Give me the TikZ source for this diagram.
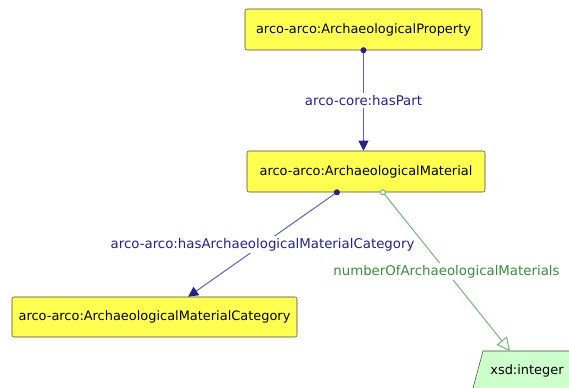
\documentclass[tikz,border=0pt]{standalone}
\usepackage{fontspec}
\setmainfont{DejaVu Sans}
\usepackage{tikz}
\usetikzlibrary{arrows.meta,calc}
\definecolor{owlyellow}{RGB}{255,255,80}
\definecolor{owlgreen}{RGB}{204,255,204}
\definecolor{objblue}{RGB}{35,35,140}
\definecolor{objline}{RGB}{95,95,180}
\definecolor{datagreen}{RGB}{60,140,60}
\definecolor{dataline}{RGB}{115,180,115}
\definecolor{boxedge}{RGB}{70,70,70}

\tikzset{
  owlfont/.style={font=\fontsize{9.7}{11}\selectfont},
  edgefont/.style={font=\fontsize{10}{12}\selectfont},
  classbox/.style={owlfont, draw=boxedge, fill=owlyellow, rounded corners=1.5pt, minimum height=30.75pt, inner sep=0pt},
  dtbox/.style={draw=boxedge, fill=owlgreen},
  objedge/.style={draw=objline, line width=0.75pt, {Circle[length=4.5pt,fill=objblue,color=objblue]}-{Triangle[length=7.5pt,width=7.5pt,fill=objblue,color=objblue]}, shorten <=-2.25pt},
  dataedge/.style={draw=dataline, line width=0.75pt, {Circle[open,length=4.5pt,fill=white]}-{Triangle[open,length=10pt,width=10pt,fill=white]}, shorten <=-2.25pt},
  objlabel/.style={edgefont, text=objblue, fill=white, inner sep=1.5pt},
  datalabel/.style={edgefont, text=datagreen, fill=white, inner sep=1.5pt}
}

\begin{document}
\begin{tikzpicture}[x=0.75pt,y=0.75pt,yscale=-1,xscale=1]
\clip (0,0) rectangle (569,388); %diagram frame 569 x 388

%Shape: Parallelogram (cut by the frame)
\draw [dtbox] (483,351) -- (580,351) -- (580,400) -- (469.8,400) -- cycle ;
\coordinate (intTop) at (510,351);

% Class Nodes
\node [classbox, minimum width=177.75pt] (prop) at (363.5,29.5) {arco-arco:ArchaeologicalProperty};
\node [classbox, minimum width=178.5pt] (mat) at (366,171.5) {arco-arco:ArchaeologicalMaterial};
\node [classbox, minimum width=213.75pt, minimum height=30pt] (cat) at (154.5,317) {arco-arco:ArchaeologicalMaterialCategory};
% Text Node
\node [owlfont] (int) at (527,371) {xsd:integer};

%Object property
\draw [objedge] (prop.south) -- node [objlabel] {arco-core:hasPart} (prop.south |- mat.north) ;
%Object property
\draw [objedge] ($(mat.south west)!0.378!(mat.south east)$) -- node [objlabel] {arco-arco:hasArchaeologicalMaterialCategory} ($(cat.north west)!0.618!(cat.north east)$) ;
%Datatype property
\draw [dataedge] ($(mat.south west)!0.571!(mat.south east)$) -- node [datalabel] {numberOfArchaeologicalMaterials} (intTop) ;

\end{tikzpicture}
\end{document}
